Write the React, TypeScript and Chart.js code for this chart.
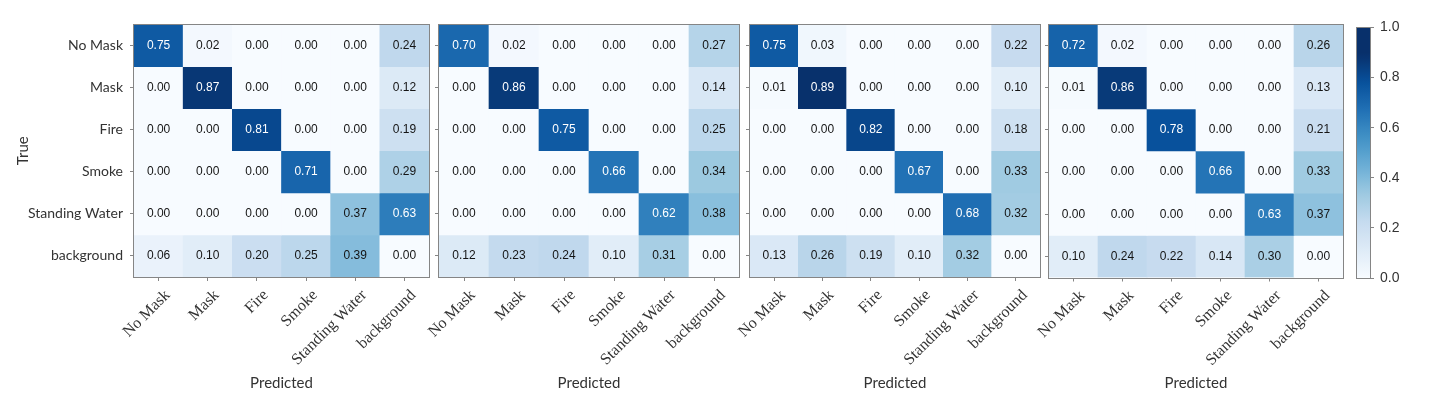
import React, { useEffect, useRef } from "react";
import { Chart, registerables } from "chart.js";

Chart.register(...registerables);

// ---------- data ----------
const classes = ["No Mask", "Mask", "Fire", "Smoke", "Standing Water", "background"];

const matrix1 = [
  [0.75, 0.02, 0.0, 0.0, 0.0, 0.24],
  [0.0, 0.87, 0.0, 0.0, 0.0, 0.12],
  [0.0, 0.0, 0.81, 0.0, 0.0, 0.19],
  [0.0, 0.0, 0.0, 0.71, 0.0, 0.29],
  [0.0, 0.0, 0.0, 0.0, 0.37, 0.63],
  [0.06, 0.1, 0.2, 0.25, 0.39, 0.0],
];

const matrix2 = [
  [0.7, 0.02, 0.0, 0.0, 0.0, 0.27],
  [0.0, 0.86, 0.0, 0.0, 0.0, 0.14],
  [0.0, 0.0, 0.75, 0.0, 0.0, 0.25],
  [0.0, 0.0, 0.0, 0.66, 0.0, 0.34],
  [0.0, 0.0, 0.0, 0.0, 0.62, 0.38],
  [0.12, 0.23, 0.24, 0.1, 0.31, 0.0],
];

const matrix3 = [
  [0.75, 0.03, 0.0, 0.0, 0.0, 0.22],
  [0.01, 0.89, 0.0, 0.0, 0.0, 0.1],
  [0.0, 0.0, 0.82, 0.0, 0.0, 0.18],
  [0.0, 0.0, 0.0, 0.67, 0.0, 0.33],
  [0.0, 0.0, 0.0, 0.0, 0.68, 0.32],
  [0.13, 0.26, 0.19, 0.1, 0.32, 0.0],
];

const matrix4 = [
  [0.72, 0.02, 0.0, 0.0, 0.0, 0.26],
  [0.01, 0.86, 0.0, 0.0, 0.0, 0.13],
  [0.0, 0.0, 0.78, 0.0, 0.0, 0.21],
  [0.0, 0.0, 0.0, 0.66, 0.0, 0.33],
  [0.0, 0.0, 0.0, 0.0, 0.63, 0.37],
  [0.1, 0.24, 0.22, 0.14, 0.3, 0.0],
];

const colorbarTicks = [0, 0.2, 0.4, 0.6, 0.8, 1.0];

// matplotlib "Blues" colormap control colours
const bluesStops = [
  "#f7fbff", "#deebf7", "#c6dbef", "#9ecae1", "#6baed6",
  "#4292c6", "#2171b5", "#08519c", "#08306b",
];

// ---------- layout / style ----------
const W = 1432;
const H = 405;
const panels = [
  { rows: matrix1, L: 134, R: 429, T: 24.5, B: 277, yW: 134, first: true },
  { rows: matrix2, L: 439, R: 739, T: 24.5, B: 277, yW: 60, first: false },
  { rows: matrix3, L: 750, R: 1040, T: 24.5, B: 277, yW: 60, first: false },
  { rows: matrix4, L: 1049, R: 1343, T: 24.5, B: 277.5, yW: 60, first: false },
];
const cbBox = { L: 1357, R: 1370, T: 27.5, B: 278, yW: 50 };

const AXIS_GRAY = "#858585";
const TEXT_COLOR = "#333333";
const SANS = "Lato";
const SERIF = "'Liberation Serif'";
const NUM = "'Liberation Sans'";
const TONE = 1.12; // the reference rendering is slightly darker than plain Blues

function hexToRgb(h: string) {
  const n = parseInt(h.slice(1), 16);
  return [(n >> 16) & 255, (n >> 8) & 255, n & 255];
}

function blues(v: number) {
  const t = Math.max(0, Math.min(1, v)) * (bluesStops.length - 1);
  const i = Math.min(bluesStops.length - 2, Math.floor(t));
  const f = t - i;
  const a = hexToRgb(bluesStops[i]);
  const b = hexToRgb(bluesStops[i + 1]);
  const c = a.map((x, k) => Math.round(x + (b[k] - x) * f));
  return `rgb(${c[0]},${c[1]},${c[2]})`;
}

function cellColor(v: number) {
  return blues(Math.min(1, v * TONE));
}

const cellTextPlugin = {
  id: "cellText",
  afterDatasetsDraw(chart: any) {
    const ctx = chart.ctx;
    ctx.save();
    ctx.font = `12px ${NUM}`;
    ctx.textAlign = "center";
    ctx.textBaseline = "middle";
    chart.data.datasets.forEach((ds: any, di: number) => {
      const meta = chart.getDatasetMeta(di);
      meta.data.forEach((bar: any, ci: number) => {
        const v = ds.values[ci];
        ctx.fillStyle = v > 0.5 ? "#ffffff" : "#141414";
        ctx.fillText(v.toFixed(2), bar.x, (bar.y + bar.base) / 2);
      });
    });
    ctx.restore();
  },
};

const framePlugin = {
  id: "frame",
  afterDraw(chart: any) {
    const { ctx, chartArea } = chart;
    ctx.save();
    ctx.strokeStyle = AXIS_GRAY;
    ctx.lineWidth = 1;
    const l = Math.round(chartArea.left) - 0.5;
    const t = Math.round(chartArea.top) - 0.5;
    const r = Math.round(chartArea.right) + 0.5;
    const b = Math.round(chartArea.bottom) + 0.5;
    ctx.strokeRect(l, t, r - l, b - t);
    ctx.restore();
  },
};

function panelConfig(p: any): any {
  const datasets = p.rows.map((vals: number[], r: number) => ({
    label: classes[r],
    data: vals.map(() => [r, r + 1]),
    values: vals,
    backgroundColor: vals.map(cellColor),
    borderWidth: 0,
    barPercentage: 1,
    categoryPercentage: 1,
    grouped: false,
  }));
  return {
    type: "bar",
    data: { labels: classes, datasets },
    plugins: [cellTextPlugin, framePlugin],
    options: {
      animation: false,
      responsive: false,
      events: [],
      layout: {
        autoPadding: false,
        padding: { left: p.L - p.yW, right: W - p.R, top: p.T, bottom: 0 },
      },
      plugins: { legend: { display: false }, tooltip: { enabled: false } },
      scales: {
        x: {
          type: "category",
          offset: true,
          afterFit: (s: any) => {
            s.height = H - p.B;
          },
          border: { display: false },
          grid: {
            display: true,
            offset: false,
            drawOnChartArea: false,
            drawTicks: true,
            tickLength: 4,
            color: AXIS_GRAY,
          },
          ticks: {
            autoSkip: false,
            maxRotation: 45,
            minRotation: 45,
            labelOffset: 9,
            padding: 5,
            color: TEXT_COLOR,
            font: { family: SERIF, size: 16 },
          },
          title: {
            display: true,
            text: "Predicted",
            color: TEXT_COLOR,
            font: { family: SANS, size: 15 },
            padding: { top: 0, bottom: 13 },
          },
        },
        y: {
          type: "linear",
          min: 0,
          max: 6,
          reverse: true,
          afterFit: (s: any) => {
            s.width = p.yW;
          },
          afterBuildTicks: (s: any) => {
            s.ticks = classes.map((_, i) => ({ value: i + 0.5 }));
          },
          border: { display: false },
          grid: {
            display: true,
            drawOnChartArea: false,
            drawTicks: true,
            tickLength: 4,
            color: AXIS_GRAY,
          },
          ticks: {
            display: p.first,
            callback: (_v: any, i: number) => classes[i],
            padding: 7,
            color: TEXT_COLOR,
            font: { family: SANS, size: 14 },
          },
          title: {
            display: p.first,
            text: "True",
            color: TEXT_COLOR,
            font: { family: SANS, size: 15 },
            padding: { top: 14, bottom: 0 },
          },
        },
      },
    },
  };
}

function colorbarConfig(): any {
  return {
    type: "bar",
    data: {
      labels: [""],
      datasets: [
        {
          data: [[colorbarTicks[0], colorbarTicks[colorbarTicks.length - 1]]],
          backgroundColor: (c: any) => {
            const area = c.chart.chartArea;
            if (!area) return bluesStops[4];
            const g = c.chart.ctx.createLinearGradient(0, area.bottom, 0, area.top);
            for (let i = 0; i <= 40; i++) g.addColorStop(i / 40, cellColor(i / 40));
            return g;
          },
          borderWidth: 0,
          barPercentage: 1,
          categoryPercentage: 1,
        },
      ],
    },
    plugins: [framePlugin],
    options: {
      animation: false,
      responsive: false,
      events: [],
      layout: {
        autoPadding: false,
        padding: { left: cbBox.L, right: W - cbBox.R - cbBox.yW, top: cbBox.T, bottom: H - cbBox.B },
      },
      plugins: { legend: { display: false }, tooltip: { enabled: false } },
      scales: {
        x: { display: false, offset: true },
        y: {
          position: "right",
          min: 0,
          max: 1,
          afterFit: (s: any) => {
            s.width = cbBox.yW;
          },
          afterBuildTicks: (s: any) => {
            s.ticks = colorbarTicks.map((v) => ({ value: v }));
          },
          border: { display: false },
          grid: {
            display: true,
            drawOnChartArea: false,
            drawTicks: true,
            tickLength: 4,
            color: AXIS_GRAY,
          },
          ticks: {
            callback: (v: any) => Number(v).toFixed(1),
            padding: 6,
            color: TEXT_COLOR,
            font: { family: NUM, size: 14 },
          },
        },
      },
    },
  };
}

function ChartCanvas({ config }: { config: () => any }) {
  const ref = useRef<HTMLCanvasElement | null>(null);
  useEffect(() => {
    if (!ref.current) return;
    const chart = new Chart(ref.current, config());
    return () => chart.destroy();
  }, [config]);
  return (
    <canvas
      ref={ref}
      width={W}
      height={H}
      style={{ position: "absolute", left: 0, top: 0, width: W, height: H }}
    />
  );
}

const panelFactories = panels.map((p) => () => panelConfig(p));

export default function App() {
  return (
    <div
      style={{
        position: "absolute",
        left: 0,
        top: 0,
        width: W,
        height: H,
        background: "#ffffff",
        overflow: "hidden",
      }}
    >
      {panelFactories.map((f, i) => (
        <ChartCanvas key={i} config={f} />
      ))}
      <ChartCanvas config={colorbarConfig} />
    </div>
  );
}
